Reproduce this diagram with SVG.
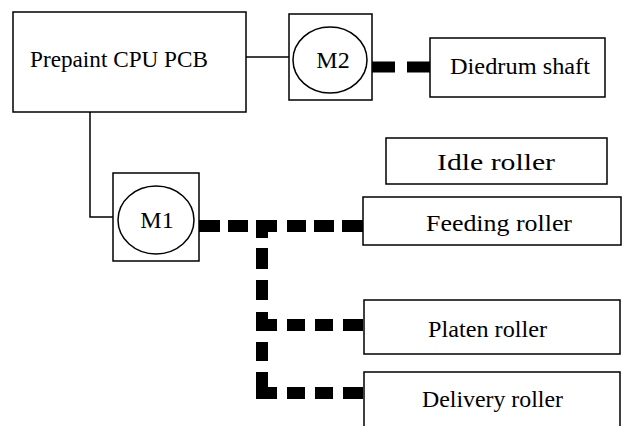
<svg xmlns="http://www.w3.org/2000/svg" width="627" height="426" viewBox="0 0 627 426">
<style>
.box{fill:#fff;stroke:#000;stroke-width:1.5}
.mot{fill:none;stroke:#000;stroke-width:1.5}
.lbl{font-family:"Liberation Serif","Times New Roman",serif;font-size:24px;fill:#000}
.wire{fill:none;stroke:#000;stroke-width:1.5}
.shaft{fill:none;stroke:#000;stroke-width:12;stroke-linecap:butt;stroke-linejoin:miter}
</style>
<rect width="627" height="426" fill="#fff"/>
<g id="connectors">
<path class="wire" d="M246,57 H289"/>
<path class="wire" d="M90,112 V217 H113"/>
<path class="shaft" d="M372,67 H395 M407,67 H430" style="stroke-width:11"/>
<path class="shaft" d="M199,226 H220 M228,226 H248 M256,226 H277 M262,220 V238 M287,226 H306 M314,226 H334 M342,226 H363"/>
<path class="shaft" d="M262,248 V269 M262,280 V300 M262,312 V325 H277 M287,325 H305 M315,325 H333 M343,325 H363"/>
<path class="shaft" d="M262,342 V361 M262,372 V393 H277 M287,393 H305 M315,393 H333 M343,393 H363"/>
</g>
<g id="pcb">
<rect class="box" x="13" y="12" width="233" height="100"/>
<text class="lbl" x="30" y="67" textLength="178" lengthAdjust="spacingAndGlyphs">Prepaint CPU PCB</text>
</g>
<g id="m2">
<rect class="box" x="289" y="14" width="83" height="86"/>
<ellipse class="mot" cx="330" cy="60" rx="37" ry="33"/>
<text class="lbl" x="333" y="68" text-anchor="middle">M2</text>
</g>
<g id="m1">
<rect class="box" x="113" y="173" width="86" height="88"/>
<ellipse class="mot" cx="156" cy="220" rx="38" ry="34"/>
<text class="lbl" x="157" y="228" text-anchor="middle">M1</text>
</g>
<g id="diedrum">
<rect class="box" x="430" y="38" width="175" height="59"/>
<text class="lbl" x="450" y="74" textLength="140" lengthAdjust="spacingAndGlyphs">Diedrum shaft</text>
</g>
<g id="idle">
<rect class="box" x="386" y="138" width="221" height="46"/>
<text class="lbl" x="437" y="170" textLength="118" lengthAdjust="spacingAndGlyphs">Idle roller</text>
</g>
<g id="feeding">
<rect class="box" x="363" y="197" width="258" height="48"/>
<text class="lbl" x="426" y="231" textLength="146" lengthAdjust="spacingAndGlyphs">Feeding roller</text>
</g>
<g id="platen">
<rect class="box" x="364" y="300" width="256" height="54"/>
<text class="lbl" x="428" y="337" textLength="119" lengthAdjust="spacingAndGlyphs">Platen roller</text>
</g>
<g id="delivery">
<rect class="box" x="364" y="372" width="256" height="70"/>
<text class="lbl" x="422" y="407" textLength="141" lengthAdjust="spacingAndGlyphs">Delivery roller</text>
</g>
</svg>
